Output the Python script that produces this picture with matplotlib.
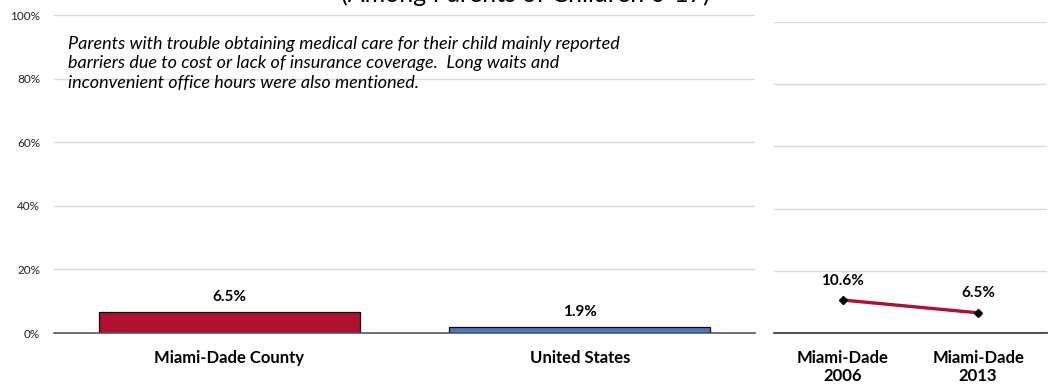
import matplotlib
matplotlib.use("Agg")
import matplotlib.pyplot as plt

categories = ["Miami-Dade County", "United States"]
values = [6.5, 1.9]
bar_colors = ["#B0112F", "#4A78CC"]
trend_labels = ["Miami-Dade\n2006", "Miami-Dade\n2013"]
trend_values = [10.6, 6.5]
yticks = [0, 20, 40, 60, 80, 100]
note = ("Parents with trouble obtaining medical care for their child mainly reported\n"
        "barriers due to cost or lack of insurance coverage.  Long waits and\n"
        "inconvenient office hours were also mentioned.")
title = "(Among Parents of Children 0-17)"

plt.rcParams["font.family"] = ["Lato", "DejaVu Sans"]
grid_c = "#D9D9D9"
line_c = "#B0112F"

fig = plt.figure(figsize=(10.51, 3.85), dpi=100)
ax = fig.add_axes([0.0514, 0.135, 0.667, 0.826])
ax2 = fig.add_axes([0.7364, 0.135, 0.2598, 0.808])

# left: bars
x = range(len(categories))
ax.bar(x, values, width=0.745, color=bar_colors, edgecolor="black", linewidth=0.9, zorder=3)
for i, v in enumerate(values):
    ax.annotate(f"{v}%", (i, v), xytext=(0, 6), textcoords="offset points",
                ha="center", va="bottom", fontsize=11, fontweight="bold")
ax.set_xlim(-0.5, 1.5)
ax.set_ylim(0, 100)
ax.set_yticks(yticks)
ax.set_yticklabels([f"{t}%" for t in yticks], fontsize=8.5, color="#222222")
ax.set_xticks(list(x))
ax.set_xticklabels(categories, fontsize=12, fontweight="bold")
ax.tick_params(axis="both", length=0)
ax.tick_params(axis="x", pad=12)
ax.tick_params(axis="y", pad=10)
ax.grid(axis="y", color=grid_c, linewidth=1, zorder=0)
for s in ["top", "right", "left"]:
    ax.spines[s].set_visible(False)
ax.spines["bottom"].set_color("#555555")
ax.spines["bottom"].set_linewidth(1.2)
ax.spines["bottom"].set_zorder(4)
ax.text(0.02, 0.935, note, transform=ax.transAxes, ha="left", va="top",
        fontsize=13, style="italic", linespacing=1.28)

# right: trend line
x2 = range(len(trend_labels))
ax2.plot(x2, trend_values, color=line_c, linewidth=2.4, marker="D", markersize=4.5,
         markerfacecolor="black", markeredgecolor="black", zorder=3)
for i, v in enumerate(trend_values):
    ax2.annotate(f"{v}%", (i, v), xytext=(0, 9), textcoords="offset points",
                 ha="center", va="bottom", fontsize=11, fontweight="bold")
ax2.set_xlim(-0.51, 1.51)
ax2.set_ylim(0, 100)
ax2.set_yticks(yticks)
ax2.set_yticklabels([])
ax2.set_xticks(list(x2))
ax2.set_xticklabels(trend_labels, fontsize=12, fontweight="bold", linespacing=1.15)
ax2.tick_params(axis="both", length=0)
ax2.tick_params(axis="x", pad=12)
ax2.grid(axis="y", color=grid_c, linewidth=1, zorder=0)
for s in ["top", "right", "left"]:
    ax2.spines[s].set_visible(False)
ax2.spines["bottom"].set_color("#333333")
ax2.spines["bottom"].set_linewidth(1.2)

fig.text(525 / 1051, 1 - 2 / 385, title, ha="center", va="baseline", fontsize=18)

fig.savefig("out.png", dpi=100)
